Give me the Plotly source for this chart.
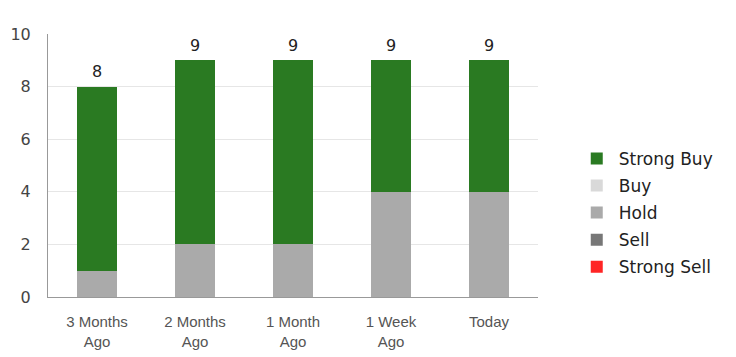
import plotly.graph_objects as go

categories = ["3 Months<br>Ago", "2 Months<br>Ago", "1 Month<br>Ago", "1 Week<br>Ago", "Today"]
strong_buy = [7, 7, 7, 5, 5]
buy = [0, 0, 0, 0, 0]
hold = [1, 2, 2, 4, 4]
sell = [0, 0, 0, 0, 0]
strong_sell = [0, 0, 0, 0, 0]
y_ticks = [0, 2, 4, 6, 8, 10]

series = [
    ("Strong Buy", strong_buy, "#2a7a22"),
    ("Buy", buy, "#d9d9d9"),
    ("Hold", hold, "#aaaaaa"),
    ("Sell", sell, "#777777"),
    ("Strong Sell", strong_sell, "#ff2525"),
]

fig = go.Figure()
# stacking order bottom-up: Strong Sell, Sell, Hold, Buy, Strong Buy
for rank, (name, vals, color) in reversed(list(enumerate(series))):
    fig.add_trace(go.Bar(
        x=categories, y=vals, name=name, legendgroup=name,
        legendrank=rank + 1,
        marker=dict(color=color, line=dict(width=0)),
    ))

totals = [sum(v) for v in zip(strong_buy, buy, hold, sell, strong_sell)]
for c, t in zip(categories, totals):
    fig.add_annotation(
        x=c, y=t, text=str(t), showarrow=False,
        yanchor="middle", yshift=15,
        font=dict(family="DejaVu Sans", size=16, color="#222"),
    )

fig.update_layout(
    barmode="stack",
    bargap=0.59,
    width=728, height=349,
    margin=dict(l=40, r=198, t=26, b=60, autoexpand=False),
    paper_bgcolor="white", plot_bgcolor="white",
    legend=dict(
        x=1.075, y=0.32, xanchor="left", yanchor="middle",
        traceorder="grouped",
        tracegroupgap=2,
        font=dict(family="DejaVu Sans", size=17, color="#222"),
        itemwidth=34,
    ),
    xaxis=dict(
        showline=True, linecolor="#999", linewidth=1, automargin=False,
        tickfont=dict(family="Liberation Sans", size=15, color="#555"),
        ticks="outside", ticklen=11, tickcolor="rgba(0,0,0,0)",
    ),
    yaxis=dict(
        range=[0, 10], tickvals=y_ticks, automargin=False,
        showline=True, linecolor="#999", linewidth=1,
        gridcolor="#e6e6e6", zeroline=False,
        tickfont=dict(family="DejaVu Sans", size=16, color="#444"),
        ticks="outside", ticklen=13, tickcolor="rgba(0,0,0,0)",
    ),
)

fig.write_html("out.html")
